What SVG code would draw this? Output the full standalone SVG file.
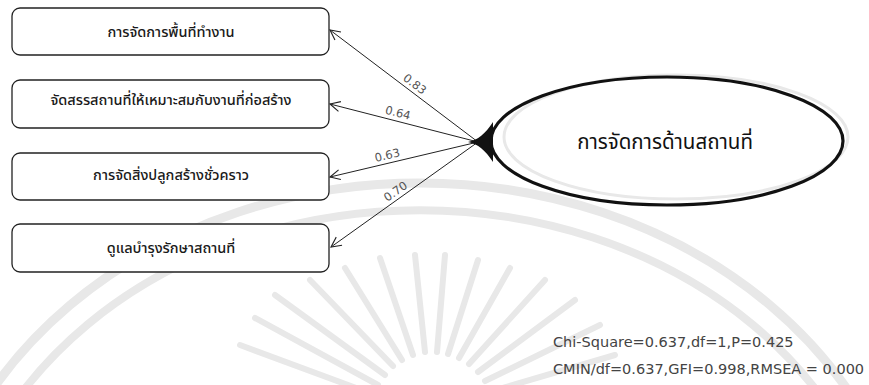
<svg xmlns="http://www.w3.org/2000/svg" width="869" height="385" viewBox="0 0 869 385">
  <style>
    .box { fill: #ffffff; stroke: #222222; stroke-width: 1.3; }
    .lbl { font-family: "Noto Sans Thai", "Tahoma", "DejaVu Sans", sans-serif; font-size: 14.5px; font-weight: 500; fill: #1a1a1a; text-anchor: middle; }
    .big { font-family: "Noto Sans Thai", "Tahoma", "DejaVu Sans", sans-serif; font-size: 20.5px; fill: #111111; text-anchor: middle; }
    .coef { font-family: "DejaVu Sans", "Liberation Sans", sans-serif; font-size: 11.5px; fill: #555555; text-anchor: middle; }
    .fit { font-family: "DejaVu Sans", "Liberation Sans", sans-serif; font-size: 14.5px; fill: #444444; }
    .edge { stroke: #222222; stroke-width: 1; fill: none; marker-end: url(#open); }
    .wm { fill: none; stroke: #e8e8e8; stroke-linecap: round; }
  </style>
  <defs>
    <marker id="open" viewBox="0 0 12 12" refX="11" refY="6" markerWidth="12" markerHeight="12" markerUnits="userSpaceOnUse" orient="auto">
      <path d="M1,1 L11,6 L1,11" fill="none" stroke="#222222" stroke-width="1.1"/>
    </marker>
  </defs>

  <rect width="869" height="385" fill="#ffffff"/>

  <!-- faint background emblem -->
  <g id="emblem">
    <path class="wm" stroke-width="9" d="M-75,600 A495,417 0 0 1 915,600"/>
    <path class="wm" stroke-width="8" d="M-50,600 A470,390 0 0 1 890,600"/>
    <ellipse cx="676" cy="137" rx="172" ry="62" class="wm" stroke-width="3"/>
    <g class="wm" stroke-width="6">
      <line x1="375" y1="395" x2="240" y2="345"/>
      <line x1="378" y1="385" x2="255" y2="318"/>
      <line x1="385" y1="375" x2="275" y2="295"/>
      <line x1="393" y1="366" x2="310" y2="280"/>
      <line x1="402" y1="360" x2="345" y2="268"/>
      <line x1="413" y1="355" x2="380" y2="258"/>
      <line x1="425" y1="352" x2="415" y2="255"/>
      <line x1="437" y1="352" x2="445" y2="255"/>
      <line x1="448" y1="354" x2="478" y2="260"/>
      <line x1="459" y1="358" x2="510" y2="268"/>
      <line x1="469" y1="364" x2="545" y2="280"/>
      <line x1="478" y1="372" x2="575" y2="300"/>
      <line x1="485" y1="381" x2="600" y2="325"/>
      <line x1="489" y1="392" x2="615" y2="355"/>
    </g>
  </g>

  <!-- connectors -->
  <g id="connectors">
    <line class="edge" x1="478" y1="142" x2="330" y2="30"/>
    <line class="edge" x1="478" y1="142" x2="330" y2="104"/>
    <line class="edge" x1="478" y1="142" x2="330" y2="177"/>
    <line class="edge" x1="478" y1="142" x2="331" y2="247"/>
    <path d="M468,142 C478,140 485,134 493,122 L493,162 C485,150 478,144 468,142 Z" fill="#111111"/>
    <text class="coef" transform="translate(410,90.5) rotate(37)" y="-4">0.83</text>
    <text class="coef" transform="translate(396,120.5) rotate(14)" y="-4">0.64</text>
    <text class="coef" transform="translate(389,163) rotate(-13)" y="-4">0.63</text>
    <text class="coef" transform="translate(400,198) rotate(-35)" y="-4">0.70</text>
  </g>

  <g id="node-workspace">
    <rect class="box" x="12" y="8" width="317" height="47" rx="8"/>
    <text class="lbl" x="171" y="37">การจัดการพื้นที่ทำงาน</text>
  </g>
  <g id="node-allocation">
    <rect class="box" x="12" y="80" width="317" height="48" rx="8"/>
    <text class="lbl" x="171" y="105">จัดสรรสถานที่ให้เหมาะสมกับงานที่ก่อสร้าง</text>
  </g>
  <g id="node-temporary">
    <rect class="box" x="12" y="153" width="317" height="47" rx="8"/>
    <text class="lbl" x="171" y="180">การจัดสิ่งปลูกสร้างชั่วคราว</text>
  </g>
  <g id="node-maintenance">
    <rect class="box" x="12" y="224" width="317" height="48" rx="8"/>
    <text class="lbl" x="171" y="253">ดูแลบำรุงรักษาสถานที่</text>
  </g>

  <g id="node-site">
    <ellipse cx="667" cy="141" rx="176" ry="64" fill="none" stroke="#111111" stroke-width="3.2"/>
    <text class="big" x="665" y="149">การจัดการด้านสถานที่</text>
  </g>

  <g id="fit-stats">
    <text class="fit" x="553" y="347">Chi-Square=0.637,df=1,P=0.425</text>
    <text class="fit" x="553" y="374">CMIN/df=0.637,GFI=0.998,RMSEA = 0.000</text>
  </g>
</svg>
